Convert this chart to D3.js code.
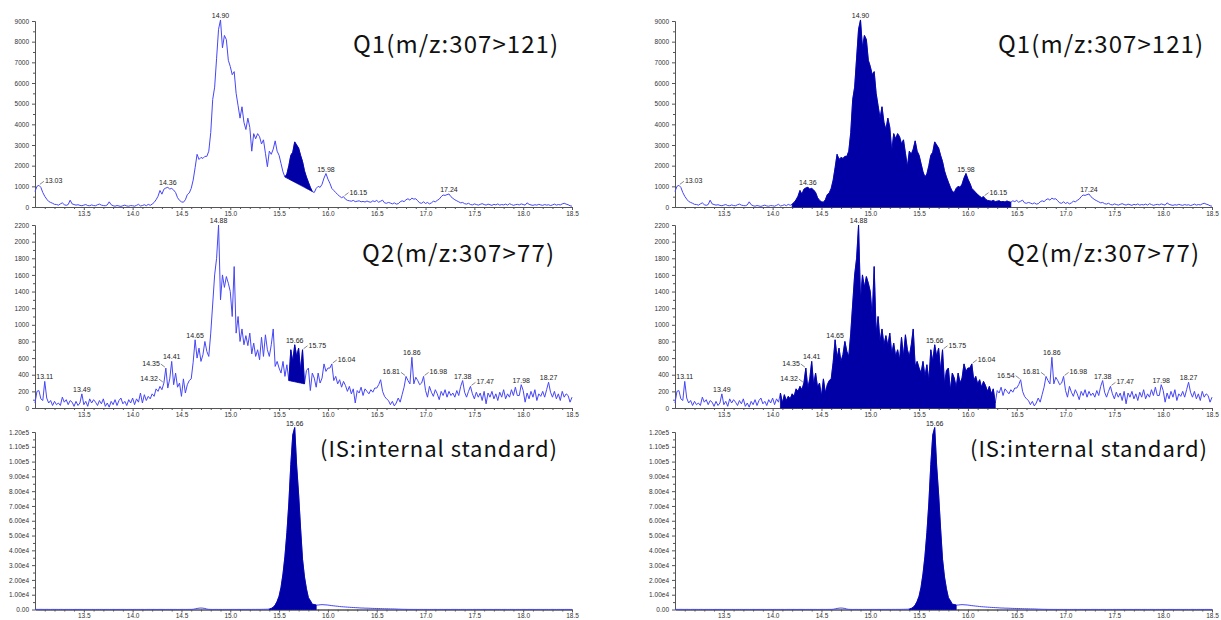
<!DOCTYPE html>
<html>
<head>
<meta charset="utf-8">
<script src="https://cdn.jsdelivr.net/npm/d3@7"></script>
<style>
    body { margin: 0; background: #fff; }
    .tick text { font-family: "Liberation Sans", Arial, sans-serif; font-size: 6.5px; fill: #333; }
    .domain, .tick line { stroke: #555; }
    .peak { font-family: "Liberation Sans", Arial, sans-serif; font-size: 7px; fill: #222; }
    .title { font-family: "Noto Sans CJK JP", "Noto Sans", sans-serif; fill: #111; }
</style>
</head>
<body>
<svg id="chart" width="1221" height="620"></svg>
<script>
// Chromatograms Q1 / Q2 / IS, same traces shown twice with different integration

var scanStart = 13.0, scanStep = 0.02;   // scan times 13.00 ... 18.50 min

// Q1 m/z 307>121 (one row = 0.2 min)
var q1Values = [
    750, 1000, 1050, 950, 700, 520, 380, 270, 220, 180,        // 13.0
    130, 120, 90, 150, 200, 110, 80, 120, 330, 150,            // 13.2
    120, 90, 110, 80, 60, 90, 120, 70, 60, 100,                // 13.4
    70, 60, 110, 140, 90, 70, 60, 100, 250, 110,               // 13.6
    60, 40, 70, 50, 30, 60, 90, 50, 40, 70,                    // 13.8
    60, 40, 80, 130, 50, 70, 110, 60, 130, 80,                 // 14.0
    140, 220, 350, 520, 800, 620, 860, 920, 950, 870,          // 14.2
    900, 820, 700, 450, 320, 250, 230, 350, 600, 680,          // 14.4
    900, 1300, 1900, 2550, 2300, 2400, 2350, 2450, 2450, 2700, // 14.6
    3600, 5200, 5800, 7200, 8600, 9050, 7700, 8300, 8100, 7100,// 14.8
    6800, 6400, 6550, 5500, 4900, 4300, 4850, 4100, 3750, 4300,// 15.0
    3850, 2700, 3550, 3300, 3550, 3400, 3050, 3250, 2600, 1950,// 15.2
    2700, 2550, 2800, 3200, 2700, 2500, 2100, 1700, 1450, 1600,// 15.4
    2000, 2500, 2650, 3150, 3000, 2850, 2500, 2200, 1750, 1450,// 15.6
    1200, 950, 750, 700, 900, 1000, 950, 1100, 1400, 1620,     // 15.8
    1350, 1150, 900, 800, 700, 600, 520, 450, 500, 380,        // 16.0
    320, 300, 280, 320, 260, 280, 300, 250, 270, 240,          // 16.2
    290, 250, 230, 300, 260, 320, 230, 280, 330, 200,          // 16.4
    180, 220, 190, 150, 200, 140, 160, 250, 300, 260,          // 16.6
    350, 400, 330, 430, 380, 400, 300, 200, 180, 250,          // 16.8
    170, 220, 150, 200, 280, 250, 320, 380, 500, 580,          // 17.0
    560, 600, 630, 500, 420, 350, 300, 250, 200, 220,          // 17.2
    160, 140, 180, 120, 100, 150, 120, 90, 130, 160,           // 17.4
    120, 90, 140, 110, 80, 130, 100, 150, 90, 120,             // 17.6
    100, 140, 90, 160, 120, 80, 110, 130, 100, 150,            // 17.8
    120, 90, 200, 130, 100, 80, 110, 90, 130, 100,             // 18.0
    80, 120, 90, 110, 70, 100, 140, 90, 120, 100,              // 18.2
    150, 180, 140, 110, 60, 40                                 // 18.4
];

// Q2 m/z 307>77
var q2Values = [
    60, 200, 210, 110, 90, 320, 120, 60, 90, 30,               // 13.0
    80, 40, 60, 30, 130, 70, 100, 40, 90, 70,                  // 13.2
    20, 80, 30, 60, 170, 40, 80, 20, 110, 60,                  // 13.4
    100, 70, 30, 90, 50, 110, 20, 60, 10, 80,                  // 13.6
    40, 100, 30, 90, 120, 50, 80, 30, 100, 60,                 // 13.8
    120, 40, 110, 70, 180, 60, 160, 90, 140, 110,              // 14.0
    170, 140, 230, 200, 260, 220, 300, 480, 240, 350,          // 14.2
    560, 280, 420, 250, 300, 140, 350, 180, 280, 330,          // 14.4
    350, 550, 820, 600, 720, 560, 640, 800, 680, 620,          // 14.6
    900, 1250, 1600, 1800, 2200, 1300, 1600, 1450, 1580, 1500, // 14.8
    1400, 1100, 1700, 900, 1100, 800, 950, 760, 870, 750,      // 15.0
    900, 650, 780, 620, 700, 580, 850, 620, 880, 700,          // 15.2
    620, 760, 950, 500, 560, 480, 420, 560, 380, 520,          // 15.4
    330, 700, 560, 760, 620, 720, 450, 700, 290, 450,          // 15.6
    480, 210, 420, 360, 250, 420, 300, 360, 530, 440,          // 15.8
    480, 480, 530, 330, 380, 290, 340, 250, 320, 270,          // 16.0
    200, 260, 170, 230, 60, 210, 180, 250, 150, 230,           // 16.2
    200, 170, 220, 190, 240, 240, 280, 340, 200, 140,          // 16.4
    110, 90, 40, 80, 25, 60, 120, 70, 160, 250,                // 16.6
    380, 330, 290, 610, 290, 370, 330, 280, 300, 380,          // 16.8
    210, 130, 260, 190, 140, 220, 170, 100, 200, 150,          // 17.0
    220, 130, 200, 150, 180, 130, 210, 150, 260, 330,          // 17.2
    190, 130, 200, 260, 170, 110, 190, 130, 180, 90,           // 17.4
    200, 50, 180, 130, 200, 110, 170, 90, 190, 130,            // 17.6
    220, 110, 170, 130, 220, 150, 250, 150, 150, 280,          // 17.8
    210, 70, 180, 110, 200, 130, 220, 90, 170, 140,            // 18.0
    200, 130, 220, 310, 190, 130, 200, 110, 170, 90,           // 18.2
    200, 130, 170, 150, 70, 130                                // 18.4
];

// internal standard
var isValues = [
    100, 80, 60, 90, 70, 50, 80, 60, 40, 70,                   // 13.0
    50, 60, 40, 70, 50, 30, 60, 40, 50, 30,                    // 13.2
    40, 50, 30, 60, 40, 30, 50, 40, 30, 50,                    // 13.4
    40, 30, 50, 40, 60, 30, 40, 50, 30, 40,                    // 13.6
    50, 40, 30, 50, 40, 60, 40, 30, 50, 40,                    // 13.8
    30, 50, 40, 60, 40, 50, 30, 40, 60, 50,                    // 14.0
    40, 50, 30, 40, 60, 50, 40, 30, 50, 40,                    // 14.2
    60, 40, 50, 30, 40, 50, 60, 40, 50, 70,                    // 14.4
    60, 150, 400, 700, 900, 1000, 900, 700, 300, 100,          // 14.6
    60, 40, 50, 60, 40, 50, 30, 60, 40, 50,                    // 14.8
    40, 60, 50, 40, 60, 50, 40, 60, 50, 70,                    // 15.0
    60, 50, 80, 60, 90, 70, 100, 120, 150, 200,                // 15.2
    300, 700, 1500, 3000, 5500, 9000, 15000, 24000, 36000, 52000,          // 15.4
    72000, 98000, 118000, 123000, 97000, 78000, 55000, 34000, 22000, 14000, // 15.6
    8000, 6000, 3500, 3400, 3000, 3000, 3200, 3300, 3200, 3100,            // 15.8
    3000, 2800, 2600, 2500, 2300, 2200, 2000, 1900, 1800, 1700, // 16.0
    1600, 1500, 1400, 1350, 1250, 1200, 1100, 1000, 1000, 900,  // 16.2
    900, 850, 800, 750, 700, 700, 650, 600, 550, 500,          // 16.4
    500, 450, 400, 400, 350, 300, 250, 200, 150, 120,          // 16.6
    100, 80, 60, 70, 50, 60, 40, 50, 60, 40,                   // 16.8
    50, 40, 30, 50, 40, 60, 30, 40, 50, 40,                    // 17.0
    30, 50, 40, 30, 60, 40, 50, 30, 40, 50,                    // 17.2
    40, 30, 50, 40, 30, 50, 40, 60, 30, 40,                    // 17.4
    50, 40, 30, 50, 40, 30, 60, 40, 50, 30,                    // 17.6
    40, 50, 30, 40, 60, 40, 30, 50, 40, 30,                    // 17.8
    50, 40, 30, 60, 40, 50, 30, 40, 50, 40,                    // 18.0
    30, 40, 50, 30, 40, 60, 40, 30, 50, 40,                    // 18.2
    40, 30, 50, 40, 30, 40                                     // 18.4
];

var xTicks = [13.5, 14.0, 14.5, 15.0, 15.5, 16.0, 16.5, 17.0, 17.5, 18.0, 18.5];
var q1Ticks = [0, 1000, 2000, 3000, 4000, 5000, 6000, 7000, 8000, 9000];
var q2Ticks = [0, 200, 400, 600, 800, 1000, 1200, 1400, 1600, 1800, 2000, 2200];
var isTicks = [0, 10000, 20000, 30000, 40000, 50000, 60000, 70000, 80000, 90000, 100000, 110000, 120000];

var titles = ["Q1(m/z:307>121)", "Q2(m/z:307>77)", "(IS:internal standard)"];

// peak labels (retention time); side: 0 above, 1 leader to the right, -1 leader to the left
var q1Labels = ["13.03", "14.36", "14.90", "15.98", "16.15", "17.24"];
var q1Sides = [1, 0, 0, 0, 1, 0];
var q2LabelsLeft = ["13.11", "13.49", "14.32", "14.35", "14.41", "14.65", "14.88", "15.66", "15.75", "16.04",
    "16.81", "16.86", "16.98", "17.38", "17.47", "17.98", "18.27"];
var q2SidesLeft = [0, 0, -1, -1, 0, 0, 0, 0, 1, 1, -1, 0, 1, 0, 1, 0, 0];
var q2LabelsRight = ["13.11", "13.49", "14.32", "14.35", "14.41", "14.65", "14.88", "15.66", "15.75", "16.04",
    "16.54", "16.81", "16.86", "16.98", "17.38", "17.47", "17.98", "18.27"];
var q2SidesRight = [0, 0, -1, -1, 0, 0, 0, 0, 1, 1, -1, -1, 0, 1, 0, 1, 0, 0];
var isLabels = ["15.66"];
var isSides = [0];

// integration windows (min)
var q1WindowLeft = [15.56, 15.84], q1WindowRight = [14.20, 16.44];
var q2WindowLeft = [15.60, 15.76], q2WindowRight = [14.08, 16.28];
var isWindow = [15.40, 15.88];

var lineColor = "#4646f8", fillColor = "#0000a6";

var svg = d3.select("#chart");

function minorTicks(ticks, n) {
    var out = [];
    for (var i = 0; i < ticks.length - 1; i++) {
        var a = ticks[i], b = ticks[i + 1];
        for (var k = 1; k < n; k++) out.push(a + (b - a) * k / n);
    }
    return out;
}

function drawPanel(cfg) {
    var x = d3.scaleLinear().domain([13.0, 18.5]).range([cfg.left, cfg.left + 537]);
    var y = d3.scaleLinear().domain([0, cfg.ticks[cfg.ticks.length - 1]]).range([cfg.bottom, cfg.top]);

    var pts = cfg.values.map(function (v, i) {
        return { t: scanStart + i * scanStep, v: v };
    });

    var g = svg.append("g");

    // x axis
    var xMinor = [13.1, 13.2, 13.3, 13.4].concat(minorTicks(xTicks, 5));
    g.append("g")
        .attr("transform", "translate(0," + cfg.bottom + ")")
        .call(d3.axisBottom(x).tickValues(xMinor).tickSize(2).tickFormat("").tickSizeOuter(0));
    g.append("g")
        .attr("transform", "translate(0," + cfg.bottom + ")")
        .call(d3.axisBottom(x).tickValues(xTicks).tickSize(3).tickPadding(1)
            .tickFormat(d3.format(".1f")).tickSizeOuter(0));

    // y axis
    g.append("g")
        .attr("transform", "translate(" + cfg.left + ",0)")
        .call(d3.axisLeft(y).tickValues(minorTicks(cfg.ticks, 2)).tickSize(2).tickFormat("").tickSizeOuter(0));
    g.append("g")
        .attr("transform", "translate(" + cfg.left + ",0)")
        .call(d3.axisLeft(y).tickValues(cfg.ticks).tickSize(3).tickPadding(3)
            .tickFormat(cfg.format).tickSizeOuter(0));

    // trace
    var line = d3.line()
        .x(function (d) { return x(d.t); })
        .y(function (d) { return y(d.v); });

    g.append("path")
        .datum(pts)
        .attr("fill", "none")
        .attr("stroke", lineColor)
        .attr("stroke-width", 1)
        .attr("d", line);

    // integrated area
    var w = cfg.window;
    var seg = pts.filter(function (d) { return d.t >= w[0] - 1e-6 && d.t <= w[1] + 1e-6; });
    var a = seg[0], b = seg[seg.length - 1];
    var base = function (t) {
        return cfg.drop ? a.v + (b.v - a.v) * (t - a.t) / (b.t - a.t) : 0;
    };
    var area = d3.area()
        .x(function (d) { return x(d.t); })
        .y0(function (d) { return y(base(d.t)); })
        .y1(function (d) { return y(d.v); });

    g.append("path")
        .datum(seg)
        .attr("fill", fillColor)
        .attr("stroke", fillColor)
        .attr("stroke-width", 0.8)
        .attr("d", area);

    // peak labels
    cfg.labels.forEach(function (lab, k) {
        var f = (+lab - scanStart) / scanStep;
        var i0 = Math.floor(f + 1e-6), i1 = Math.ceil(f - 1e-6);
        var p = pts[i0].v >= pts[i1].v ? pts[i0] : pts[i1];
        var px = x(p.t), py = y(p.v);
        var side = cfg.sides[k];
        if (side === 0) {
            g.append("text").attr("class", "peak")
                .attr("x", px).attr("y", py - 2)
                .attr("text-anchor", "middle")
                .text(lab);
        } else {
            g.append("line")
                .attr("x1", px + side).attr("y1", py - 1)
                .attr("x2", px + side * 5).attr("y2", py - 4)
                .attr("stroke", "#555").attr("stroke-width", 0.7);
            g.append("text").attr("class", "peak")
                .attr("x", px + side * 6).attr("y", py - 2)
                .attr("text-anchor", side > 0 ? "start" : "end")
                .text(lab);
        }
    });

    // title
    g.append("text").attr("class", "title")
        .attr("x", cfg.titleX).attr("y", cfg.titleY)
        .attr("font-size", cfg.titleSize)
        .attr("textLength", cfg.titleLen)
        .attr("lengthAdjust", "spacing")
        .text(cfg.title);
}

var fmtInt = d3.format("d");
var fmtExp = function (v) { return v === 0 ? "0.00" : d3.format(".2e")(v).replace("+", ""); };

var columns = [
    { left: 35, titleShift: 0, q1Win: q1WindowLeft, q2Win: q2WindowLeft, drop: true, q2Labels: q2LabelsLeft, q2Sides: q2SidesLeft, isShift: 0 },
    { left: 675, titleShift: 645, q1Win: q1WindowRight, q2Win: q2WindowRight, drop: false, q2Labels: q2LabelsRight, q2Sides: q2SidesRight, isShift: 650 }
];

columns.forEach(function (c) {
    drawPanel({
        left: c.left, bottom: 207, top: 21, ticks: q1Ticks, format: fmtInt, values: q1Values,
        window: c.q1Win, drop: c.drop, labels: q1Labels, sides: q1Sides,
        title: titles[0], titleX: 353 + c.titleShift, titleY: 53, titleSize: 24, titleLen: 205
    });
    drawPanel({
        left: c.left, bottom: 408, top: 225, ticks: q2Ticks, format: fmtInt, values: q2Values,
        window: c.q2Win, drop: c.drop, labels: c.q2Labels, sides: c.q2Sides,
        title: titles[1], titleX: 362 + c.titleShift, titleY: 262, titleSize: 24, titleLen: 192
    });
    drawPanel({
        left: c.left, bottom: 609.5, top: 432, ticks: isTicks, format: fmtExp, values: isValues,
        window: isWindow, drop: false, labels: isLabels, sides: isSides,
        title: titles[2], titleX: 320 + c.isShift, titleY: 457, titleSize: 22, titleLen: 237
    });
});
</script>
</body>
</html>
